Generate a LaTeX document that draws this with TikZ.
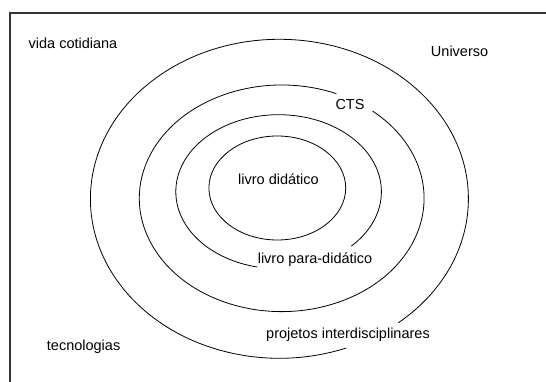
\documentclass[tikz,border=0pt]{standalone}
\usepackage{fontspec}
\setmainfont{Liberation Sans}
\usepackage{tikz}

\begin{document}
\begin{tikzpicture}[x=1pt, y=1pt,
		ring/.style={black, line width=0.8pt},
		lbl/.style={inner sep=0pt, font=\fontsize{14.5pt}{16pt}\selectfont}]
			\useasboundingbox (0,0) rectangle (546,382);

			% frame
			\draw[black!80, line width=1.3pt] (10,0) -- (10,369) -- (546,369);

			% rings, from inside to outside
			\draw[ring] (277.3,194) ellipse [x radius=68.4, y radius=52];
			\draw[ring] (278.6,190.3) ++(-45:102.8 and 77) arc [start angle=-45, end angle=258, x radius=102.8, y radius=77];
			\draw[ring] (281.7,183.7) ++(67.4:142.4 and 113.3) arc [start angle=67.4, end angle=410.3, x radius=142.4, y radius=113.3];
			\draw[ring] (279.4,183.2) ++(-51:189 and 159.5) arc [start angle=-51, end angle=290.7, x radius=189, y radius=159.5];

			% labels
			\node[lbl] (livro) at (278.5,203) {livro didático};
			\node[lbl] (parad) at (315,122.7) {livro para-didático};
			\node[lbl] (cts) at (350,277) {CTS};
			\node[lbl] (proj) at (348,47) {projetos interdisciplinares};
			\node[lbl] (vida) at (73,339) {vida cotidiana};
			\node[lbl] (univ) at (459.6,330.3) {Universo};
			\node[lbl] (tecn) at (83.6,35.3) {tecnologias};

		\end{tikzpicture}
\end{document}
